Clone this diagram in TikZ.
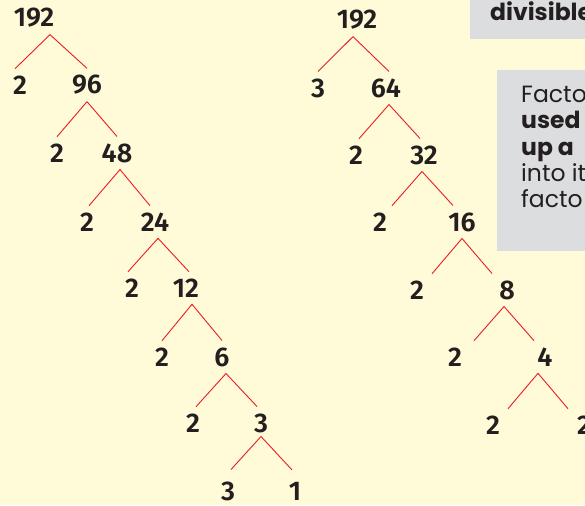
\documentclass[tikz,border=0pt]{standalone}
\usepackage{fontspec}
\newfontfamily\numfont{Fira Sans SemiBold}
\newfontfamily\notefont{Poppins}
\definecolor{paper}{RGB}{255,250,215}
\definecolor{notegrey}{RGB}{220,221,223}
\definecolor{ink}{RGB}{35,31,32}
\definecolor{branchred}{RGB}{237,28,36}

\begin{document}
\begin{tikzpicture}[x=1pt, y=-1pt,
    num/.style={font=\numfont\fontsize{27}{27}\selectfont, text=ink,
      inner sep=0pt, outer sep=7pt},
    branch/.style={draw=branchred, line width=0.9pt},
    note/.style={font=\notefont\fontsize{23.5}{26}\selectfont, text=ink,
      inner sep=0pt, anchor=base west}]
  \clip (0,0) rectangle (585,505);
  \fill[paper] (0,0) rectangle (585,505);
  % Note boxes, running off the right edge.
  \fill[notegrey] (470,-5) rectangle (600,39);
  \node[note] (top) at (490,21) {\bfseries divisible};
  \fill[notegrey] (497,70) rectangle (600,251);
  \node[note] (n1) at (521,103) {Facto};
  \node[note] (n2) at (521,129) {\bfseries used};
  \node[note] (n3) at (521,155) {\bfseries up a};
  \node[note] (n4) at (521,181) {into it};
  \node[note] (n5) at (521,207) {facto};
  % Left tree.
  \node[num] (l0) at (34,18) {192};
  \node[num] (l1a) at (20,85) {2};
  \node[num] (l1b) at (87,85) {96};
  \node[num] (l2a) at (57,153) {2};
  \node[num] (l2b) at (117,153) {48};
  \node[num] (l3a) at (87,222) {2};
  \node[num] (l3b) at (155,222) {24};
  \node[num] (l4a) at (132,288) {2};
  \node[num] (l4b) at (186,288) {12};
  \node[num] (l5a) at (162,357) {2};
  \node[num] (l5b) at (222,357) {6};
  \node[num] (l6a) at (193,423) {2};
  \node[num] (l6b) at (261,423) {3};
  \node[num] (l7a) at (228,491) {3};
  \node[num] (l7b) at (295,491) {1};
  \draw[branch] ([xshift=16pt]l0.south) -- ([xshift=-5pt]l1a.north);
  \draw[branch] ([xshift=16pt]l0.south) -- (l1b.north);
  \draw[branch] (l1b.south) -- (l2a.north);
  \draw[branch] (l1b.south) -- (l2b.north);
  \draw[branch] ([xshift=3pt]l2b.south) -- ([xshift=2pt]l3a.north);
  \draw[branch] ([xshift=3pt]l2b.south) -- ([xshift=-5pt]l3b.north);
  \draw[branch] ([xshift=3pt]l3b.south) -- ([xshift=-4pt]l4a.north);
  \draw[branch] ([xshift=3pt]l3b.south) -- ([xshift=3pt]l4b.north);
  \draw[branch] ([xshift=6pt]l4b.south) -- (l5a.north);
  \draw[branch] ([xshift=6pt]l4b.south) -- (l5b.north);
  \draw[branch] ([xshift=4pt]l5b.south) -- ([xshift=3pt]l6a.north);
  \draw[branch] ([xshift=4pt]l5b.south) -- ([xshift=-4pt]l6b.north);
  \draw[branch] ([yshift=3pt]l6b.south) -- ([xshift=3pt,yshift=5pt]l7a.north);
  \draw[branch] ([yshift=3pt]l6b.south) -- ([xshift=-3pt,yshift=5pt]l7b.north);
  % Right tree.
  \node[num] (r0) at (357,20) {192};
  \node[num] (r1a) at (318,88) {3};
  \node[num] (r1b) at (386,88) {64};
  \node[num] (r2a) at (356,155) {2};
  \node[num] (r2b) at (424,155) {32};
  \node[num] (r3a) at (380,222) {2};
  \node[num] (r3b) at (462,222) {16};
  \node[num] (r4a) at (417,290) {2};
  \node[num] (r4b) at (507,290) {8};
  \node[num] (r5a) at (455,357) {2};
  \node[num] (r5b) at (545,357) {4};
  \node[num] (r6a) at (493,425) {2};
  \node[num] (r6b) at (584,425) {2};
  \draw[branch] ([xshift=-4pt]r0.south) -- (r1a.north);
  \draw[branch] ([xshift=-4pt]r0.south) -- ([xshift=3pt]r1b.north);
  \draw[branch] ([xshift=3pt]r1b.south) -- ([xshift=3pt]r2a.north);
  \draw[branch] ([xshift=3pt]r1b.south) -- ([xshift=-4pt]r2b.north);
  \draw[branch] ([xshift=-2pt]r2b.south) -- ([xshift=12pt]r3a.north);
  \draw[branch] ([xshift=-2pt]r2b.south) -- ([xshift=-9pt]r3b.north);
  \draw[branch] (r3b.south) -- ([xshift=15pt]r4a.north);
  \draw[branch] (r3b.south) -- ([xshift=-15pt]r4b.north);
  \draw[branch] ([xshift=-3pt]r4b.south) -- ([xshift=19pt]r5a.north);
  \draw[branch] ([xshift=-3pt]r4b.south) -- ([xshift=-11pt]r5b.north);
  \draw[branch] ([xshift=-7pt]r5b.south) -- ([xshift=15pt]r6a.north);
  \draw[branch] ([xshift=-7pt]r5b.south) -- ([xshift=-16pt]r6b.north);
\end{tikzpicture}
\end{document}
